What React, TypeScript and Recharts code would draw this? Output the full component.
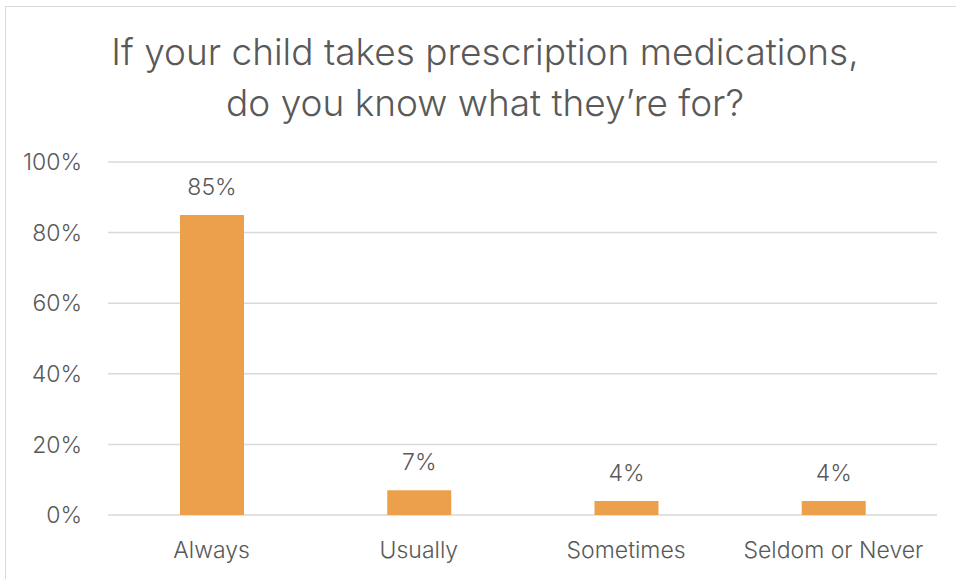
import React from "react";
import { BarChart, Bar, XAxis, YAxis, CartesianGrid, LabelList } from "recharts";

const categories = ["Always", "Usually", "Sometimes", "Seldom or Never"];
const values = [85, 7, 4, 4];
const yTicks = [0, 20, 40, 60, 80, 100];
const titleLines = ["If your child takes prescription medications,", "do you know what they\u2019re for?"];

const data = categories.map((c, i) => ({ name: c, value: values[i] }));

const FONT = "Inter, 'Noto Sans', sans-serif";
const TEXT = "#595959";

export default function App() {
  return (
    <div style={{ position: "absolute", left: 0, top: 0, width: 956, height: 579, overflow: "hidden", background: "#fff", fontFamily: FONT }}>
      <div style={{ position: "absolute", left: 5, top: 6, width: 1000, height: 1000, border: "1px solid #d9d9d9", boxSizing: "border-box" }} />
      <div style={{ position: "absolute", left: 0, top: 26, width: 970, textAlign: "center", color: TEXT, fontSize: 37, fontWeight: 300, lineHeight: "51px" }}>
        {titleLines.map((t) => (
          <div key={t}>{t}</div>
        ))}
      </div>
      <div style={{ position: "absolute", left: 0, top: 0 }}>
        <BarChart width={956} height={579} data={data} margin={{ top: 162, right: 19, bottom: 34, left: 0 }} barSize={64}>
          <CartesianGrid vertical={false} stroke="#d9d9d9" strokeWidth={1.5} />
          <XAxis
            dataKey="name"
            axisLine={false}
            tickLine={false}
            tickSize={0}
            tickMargin={27}
            height={30}
            tick={{ fill: TEXT, fontSize: 23, fontFamily: FONT, fontWeight: 300 }}
          />
          <YAxis
            width={108}
            domain={[0, 100]}
            ticks={yTicks}
            tickFormatter={(v) => `${v}%`}
            axisLine={false}
            tickLine={false}
            tickSize={0}
            tickMargin={26}
            tick={{ fill: TEXT, fontSize: 23, fontFamily: FONT, fontWeight: 300 }}
          />
          <Bar dataKey="value" fill="#EDA04B" isAnimationActive={false}>
            <LabelList
              dataKey="value"
              position="top"
              offset={20}
              formatter={(v: any) => `${v}%`}
              style={{ fill: TEXT, fontSize: 23, fontFamily: FONT, fontWeight: 300 }}
            />
          </Bar>
        </BarChart>
      </div>
    </div>
  );
}
